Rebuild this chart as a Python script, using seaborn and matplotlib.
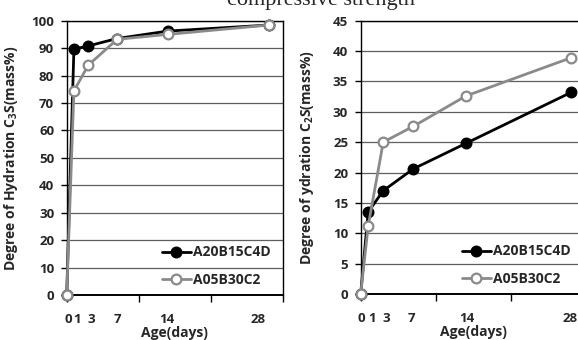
import pandas as pd
import numpy as np
import matplotlib
matplotlib.use("Agg")
import matplotlib.pyplot as plt
import seaborn as sns

# Data
age = [0, 1, 3, 7, 14, 28]
tick_labels = ["0", "1", "3", "7", "14", "28"]
series_names = ["A20B15C4D", "A05B30C2"]

c3s_a20 = [0, 89.6, 90.8, 93.5, 96.2, 98.4]
c3s_a05 = [0, 74.4, 83.8, 93.2, 95.0, 98.4]
c2s_a20 = [0, 13.5, 17.0, 20.6, 24.8, 33.2]
c2s_a05 = [0, 11.2, 25.0, 27.6, 32.6, 38.9]

sns.set_style("white")
plt.rcParams["font.family"] = ["Open Sans", "DejaVu Sans"]
plt.rcParams["font.weight"] = "bold"
plt.rcParams["mathtext.fontset"] = "custom"
plt.rcParams["mathtext.rm"] = "Open Sans:bold"
plt.rcParams["mathtext.default"] = "rm"

GRAY = "#8a8a8a"
styles = [
    dict(color="black", marker="o", markerfacecolor="black", markeredgecolor="black"),
    dict(color=GRAY, marker="o", markerfacecolor="white", markeredgecolor=GRAY),
]

fig = plt.figure(figsize=(5.78, 3.40), dpi=100)
ax1 = fig.add_axes([0.1154, 0.1324, 0.3742, 0.8068])
ax2 = fig.add_axes([0.6240, 0.1353, 0.3903, 0.8040])

panels = [
    (ax1, [c3s_a20, c3s_a05], (0, 100), 10, "Degree of Hydration C$_3$S(mass%)",
     [0.2, 1.5, 3.4, 7.0, 13.9, 26.6], (1.0, -0.015)),
    (ax2, [c2s_a20, c2s_a05], (0, 45), 5, "Degree of ydration C$_2$S(mass%)",
     [0.15, 1.45, 3.45, 6.8, 14.1, 27.8], (0.985, -0.015)),
]

for ax, ys, ylim, ystep, ylabel, label_pos, leg_anchor in panels:
    for name, y, st in zip(series_names, ys, styles):
        df = pd.DataFrame({"age": age, "val": y})
        sns.lineplot(data=df, x="age", y="val", ax=ax, label=name, lw=2.0,
                     markersize=7, markeredgewidth=1.6, zorder=3,
                     clip_on=False, **st)
    ax.set_xlim(0, 30)
    ax.set_ylim(*ylim)
    ax.set_yticks(np.arange(ylim[0], ylim[1] + 0.1, ystep))
    ax.set_xticks([0, 10, 20, 30])
    ax.tick_params(axis="x", direction="out", length=5, width=1, color="black",
                   labelbottom=False, bottom=True)
    ax.tick_params(axis="y", direction="out", length=4, width=1, color="black",
                   labelsize=9.5, pad=5, left=True)
    for lbl in ax.get_yticklabels():
        lbl.set_fontweight("bold")
    ax.grid(axis="y", color="#5e5e5e", lw=0.9)
    ax.set_axisbelow(True)
    for s in ax.spines.values():
        s.set_color("black")
        s.set_linewidth(1.0)
    ax.spines["bottom"].set_linewidth(1.4)
    for pos, t in zip(label_pos, tick_labels):
        ax.text(pos, -0.088, t, transform=ax.get_xaxis_transform(), ha="center",
                va="center", fontsize=9.5, fontweight="bold")
    ax.set_xlabel("Age(days)", fontsize=10, fontweight="bold")
    ax.xaxis.set_label_coords(0.5, -0.112)
    ax.set_ylabel(ylabel, fontsize=10, fontweight="bold")
    handles, labels = ax.get_legend_handles_labels()
    ax.legend(handles, labels, loc="lower right", bbox_to_anchor=leg_anchor,
              frameon=False, handlelength=2.1, handletextpad=0.15,
              labelspacing=0.95, prop={"weight": "bold", "size": 10})

ax1.yaxis.set_label_coords(-0.215, 0.5)
ax2.yaxis.set_label_coords(-0.2, 0.5)

fig.text(0.556, 0.985, "compressive strength", ha="center", va="baseline",
         fontsize=16, family="Liberation Serif", fontweight="normal")

fig.savefig("out.png", dpi=100)
